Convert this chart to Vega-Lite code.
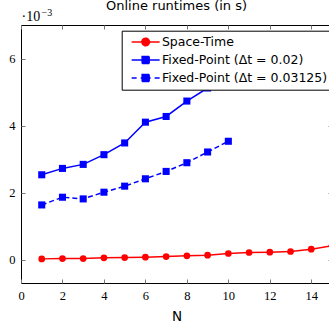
{
  "$schema": "https://vega.github.io/schema/vega-lite/v6.json",
  "autosize": "none",
  "width": 311,
  "height": 258,
  "padding": {"left": 21, "top": 25, "right": 0, "bottom": 40},
  "background": "white",
  "config": {
    "view": {"stroke": "black", "strokeWidth": 1},
    "axis": {"grid": false}
  },
  "title": {
    "text": "Online runtimes (in s)",
    "font": "DejaVu Sans",
    "fontSize": 13,
    "fontWeight": "normal",
    "color": "black",
    "anchor": "middle",
    "frame": "group",
    "baseline": "alphabetic",
    "offset": -4,
    "dy": 12
  },
  "data": {
    "values": [
      {"N": 1, "runtime": 0.00002, "method": "Space-Time"},
      {"N": 2, "runtime": 0.00003, "method": "Space-Time"},
      {"N": 3, "runtime": 0.00003, "method": "Space-Time"},
      {"N": 4, "runtime": 0.00005, "method": "Space-Time"},
      {"N": 5, "runtime": 0.00006, "method": "Space-Time"},
      {"N": 6, "runtime": 0.00007, "method": "Space-Time"},
      {"N": 7, "runtime": 0.00009, "method": "Space-Time"},
      {"N": 8, "runtime": 0.00011, "method": "Space-Time"},
      {"N": 9, "runtime": 0.00013, "method": "Space-Time"},
      {"N": 10, "runtime": 0.00018, "method": "Space-Time"},
      {"N": 11, "runtime": 0.00021, "method": "Space-Time"},
      {"N": 12, "runtime": 0.00022, "method": "Space-Time"},
      {"N": 13, "runtime": 0.00024, "method": "Space-Time"},
      {"N": 14, "runtime": 0.00031, "method": "Space-Time"},
      {"N": 15, "runtime": 0.00041, "method": "Space-Time"},
      {"N": 1, "runtime": 0.00253, "method": "Fixed-Point (Δt = 0.02)"},
      {"N": 2, "runtime": 0.00272, "method": "Fixed-Point (Δt = 0.02)"},
      {"N": 3, "runtime": 0.00284, "method": "Fixed-Point (Δt = 0.02)"},
      {"N": 4, "runtime": 0.00313, "method": "Fixed-Point (Δt = 0.02)"},
      {"N": 5, "runtime": 0.00348, "method": "Fixed-Point (Δt = 0.02)"},
      {"N": 6, "runtime": 0.0041, "method": "Fixed-Point (Δt = 0.02)"},
      {"N": 7, "runtime": 0.00427, "method": "Fixed-Point (Δt = 0.02)"},
      {"N": 8, "runtime": 0.00473, "method": "Fixed-Point (Δt = 0.02)"},
      {"N": 9, "runtime": 0.00512, "method": "Fixed-Point (Δt = 0.02)"},
      {"N": 10, "runtime": 0.00535, "method": "Fixed-Point (Δt = 0.02)"},
      {"N": 1, "runtime": 0.00163, "method": "Fixed-Point (Δt = 0.03125)"},
      {"N": 2, "runtime": 0.00186, "method": "Fixed-Point (Δt = 0.03125)"},
      {"N": 3, "runtime": 0.00181, "method": "Fixed-Point (Δt = 0.03125)"},
      {"N": 4, "runtime": 0.00201, "method": "Fixed-Point (Δt = 0.03125)"},
      {"N": 5, "runtime": 0.00219, "method": "Fixed-Point (Δt = 0.03125)"},
      {"N": 6, "runtime": 0.00241, "method": "Fixed-Point (Δt = 0.03125)"},
      {"N": 7, "runtime": 0.00263, "method": "Fixed-Point (Δt = 0.03125)"},
      {"N": 8, "runtime": 0.00289, "method": "Fixed-Point (Δt = 0.03125)"},
      {"N": 9, "runtime": 0.00321, "method": "Fixed-Point (Δt = 0.03125)"},
      {"N": 10, "runtime": 0.00353, "method": "Fixed-Point (Δt = 0.03125)"}
    ]
  },
  "layer": [
    {
      "transform": [{"filter": "datum.method !== 'Fixed-Point (Δt = 0.03125)'"}],
      "mark": {"type": "line", "strokeWidth": 1.5, "clip": true},
      "encoding": {
        "x": {
          "field": "N", "type": "quantitative",
          "scale": {"domain": [0, 15], "nice": false, "zero": false},
          "axis": {
            "orient": "bottom", "values": [0, 2, 4, 6, 8, 10, 12, 14],
            "domain": false, "tickSize": -4, "tickColor": "#777", "tickWidth": 1,
            "labelPadding": 10, "labelFont": "Liberation Serif", "labelFontSize": 12.5,
            "labelColor": "black", "labelFlush": false, "labelOverlap": false,
            "title": "N", "titleFont": "DejaVu Sans", "titleFontSize": 13.5,
            "titleFontWeight": "normal", "titleColor": "black", "titlePadding": 8
          }
        },
        "y": {
          "field": "runtime", "type": "quantitative",
          "scale": {"domain": [-0.0007, 0.007], "nice": false, "zero": false},
          "axis": {
            "orient": "left", "values": [0, 0.002, 0.004, 0.006],
            "labelExpr": "format(datum.value * 1000, 'd')",
            "domain": false, "tickSize": -4, "tickColor": "#777", "tickWidth": 1,
            "labelPadding": 10, "labelFont": "Liberation Serif", "labelFontSize": 12.5,
            "labelColor": "black", "labelOverlap": false,
            "title": "·10", "titleAngle": 0, "titleAlign": "left",
            "titleBaseline": "alphabetic", "titleX": 0, "titleY": -5,
            "titleFont": "Liberation Serif", "titleFontSize": 14,
            "titleFontWeight": "normal", "titleColor": "black"
          }
        },
        "color": {
          "field": "method", "type": "nominal",
          "scale": {
            "domain": ["Space-Time", "Fixed-Point (Δt = 0.02)", "Fixed-Point (Δt = 0.03125)"],
            "range": ["#ff0000", "#0000ff", "#0000ff"]
          },
          "legend": {
            "orient": "none", "legendX": 100.7, "legendY": 5.7,
            "title": null, "direction": "vertical",
            "fillColor": "white", "strokeColor": "black", "padding": 5,
            "cornerRadius": 0,
            "symbolSize": 100, "symbolOffset": 12.7, "labelOffset": 10,
            "labelFont": "DejaVu Sans", "labelFontSize": 12.5, "labelColor": "black",
            "labelLimit": 400, "rowPadding": 4,
            "labelExpr": "datum.label + '\u00a0\u00a0\u00a0\u00a0'",
            "encode": {
              "symbols": {
                "update": {
                  "shape": {"signal": "datum.index === 0 ? 'M-2.8,0L2.8,0M0.75,0A0.75,0.75,0,1,1,-0.75,0A0.75,0.75,0,1,1,0.75,0Z' : datum.index === 1 ? 'M-2.8,0L2.8,0M-0.7,-0.7L0.7,-0.7L0.7,0.7L-0.7,0.7Z' : 'M-2.8,0L-1.8,0M-1.0,0L1.0,0M-0.7,-0.7L0.7,-0.7L0.7,0.7L-0.7,0.7ZM1.8,0L2.8,0'"},
                  "fill": {"signal": "datum.index === 0 ? '#ff0000' : '#0000ff'"},
                  "stroke": {"signal": "datum.index === 0 ? '#ff0000' : '#0000ff'"},
                  "strokeWidth": {"value": 1.5},
                  "strokeDash": {"value": [1, 0]},
                  "opacity": {"value": 1}
                }
              }
            }
          }
        }
      }
    },
    {
      "transform": [{"filter": "datum.method === 'Fixed-Point (Δt = 0.03125)'"}],
      "mark": {"type": "line", "strokeWidth": 1.5, "strokeDash": [5, 3], "clip": true},
      "encoding": {
        "x": {"field": "N", "type": "quantitative", "axis": null},
        "y": {"field": "runtime", "type": "quantitative", "axis": null},
        "color": {"field": "method", "type": "nominal"}
      }
    },
    {
      "transform": [{"filter": "datum.method === 'Space-Time'"}],
      "mark": {"type": "point", "shape": "circle", "filled": true, "size": 45, "opacity": 1, "clip": true},
      "encoding": {
        "x": {
          "field": "N", "type": "quantitative",
          "axis": {
            "orient": "top", "values": [0, 2, 4, 6, 8, 10, 12, 14],
            "domain": false, "labels": false,
            "tickSize": -4, "tickColor": "#777", "tickWidth": 1,
            "title": "−3", "titleAngle": 0, "titleAlign": "left",
            "titleBaseline": "alphabetic", "titleX": 20, "titleY": -10,
            "titleFont": "Liberation Serif", "titleFontSize": 10,
            "titleFontWeight": "normal", "titleColor": "black"
          }
        },
        "y": {
          "field": "runtime", "type": "quantitative",
          "axis": {
            "orient": "right", "values": [0, 0.002, 0.004, 0.006],
            "domain": false, "labels": false, "title": null,
            "tickSize": -4, "tickColor": "#777", "tickWidth": 1
          }
        },
        "color": {"field": "method", "type": "nominal"}
      }
    },
    {
      "transform": [{"filter": "datum.method !== 'Space-Time'"}],
      "mark": {"type": "point", "shape": "square", "filled": true, "size": 50, "opacity": 1, "clip": true},
      "encoding": {
        "x": {"field": "N", "type": "quantitative", "axis": null},
        "y": {"field": "runtime", "type": "quantitative", "axis": null},
        "color": {"field": "method", "type": "nominal"}
      }
    }
  ],
  "resolve": {"axis": {"x": "independent", "y": "independent"}}
}
